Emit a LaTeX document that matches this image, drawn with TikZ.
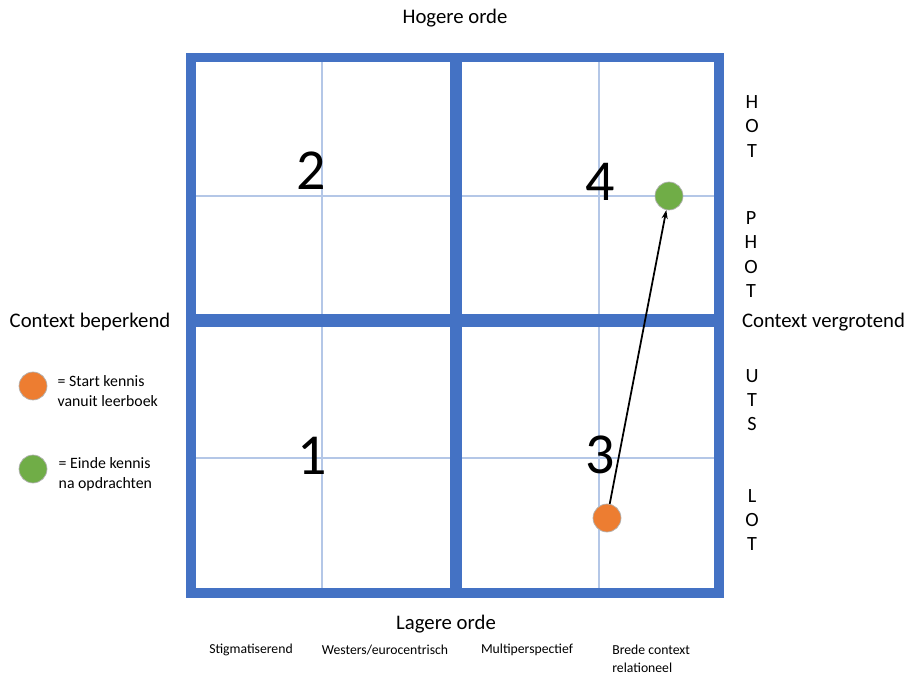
\documentclass[tikz,border=0pt]{standalone}
\usepackage{fontspec}
\setmainfont{Carlito}
\usetikzlibrary{arrows.meta,positioning}
\definecolor{qblue}{HTML}{4472C4}
\definecolor{qlight}{HTML}{B4C7E7}
\definecolor{dorange}{HTML}{ED7D31}
\definecolor{dgreen}{HTML}{70AD47}

\begin{document}
\begin{tikzpicture}[
  x=0.02cm, y=-0.02cm,
  frameline/.style={draw=qblue, line width=5.2pt},
  axisline/.style={draw=qblue, line width=7pt},
  gridline/.style={draw=qlight, line width=0.6pt},
  quad/.style={font=\fontsize{33}{36}\selectfont, inner sep=0pt},
  lbl/.style={font=\fontsize{11.8}{14}\selectfont, inner sep=0pt},
  letters/.style={font=\fontsize{11.5}{13.7}\selectfont, align=center, inner sep=0pt},
  leg/.style={font=\fontsize{9}{11.2}\selectfont, align=left, inner sep=0pt, anchor=west},
  small/.style={font=\fontsize{7.8}{10}\selectfont, align=left, inner sep=0pt},
  dot/.style={circle, minimum size=0.56cm, inner sep=0pt,
    draw=gray!60, line width=0.4pt},
  Dorange/.style={dot, fill=dorange},
  Dgreen/.style ={dot, fill=dgreen},
  arr/.style={-{Stealth[length=5pt,width=3.5pt]}, draw=black, line width=1pt},
]
\useasboundingbox (0,0) rectangle (906,675);

%% GRID
\draw[gridline] (322,57.5) -- (322,593);
\draw[gridline] (599,57.5) -- (599,593);
\draw[gridline] (191,196) -- (719,196);
\draw[gridline] (191,458) -- (719,458);
\draw[axisline] (456,57.5) -- (456,593);
\draw[axisline] (191,320.5) -- (719,320.5);
\draw[frameline] (191,57.5) rectangle (719,593);

%% QUADRANTS
\node[quad] (q2) at (311,171) {2};
\node[quad] (q4) at (600,182) {4};
\node[quad] (q1) at (312,456) {1};
\node[quad] (q3) at (600,455) {3};

%% AXIS LABELS
\node[lbl] (hoog)  at (455,18)    {Hogere orde};
\node[lbl] (laag)  at (446,624)   {Lagere orde};
\node[lbl] (cbep)  at (90,322)    {Context beperkend};
\node[lbl] (cvergr) at (823.5,322) {Context vergrotend};

\node[letters] (hot)  at (752,126.5) {H\\O\\T};
\node[letters] (phot) at (751,254.5) {P\\H\\O\\T};
\node[letters] (uts)  at (752,400)   {U\\T\\S};
\node[letters] (lot)  at (752,520)   {L\\O\\T};

%% BOTTOM SCALE
\node[small] (stig) at (251,650) {Stigmatiserend};
\node[small] (west) at (385,650) {Westers/eurocentrisch};
\node[small] (mult) at (527,650) {Multiperspectief};
\node[small, anchor=west] (bred) at (612,659)
  {Brede context\\relationeel};

%% LEGEND
\node[Dorange] (legstart) at (33,386) {};
\node[leg, right=0.2cm of legstart, yshift=-0.1cm] (legstartt)
  {= Start kennis\\vanuit leerboek};
\node[Dgreen] (legeinde) at (33,469) {};
\node[leg, right=0.22cm of legeinde, yshift=-0.1cm] (legeindet)
  {= Einde kennis\\na opdrachten};

%% PATH
\node[Dorange] (start) at (607,518) {};
\node[Dgreen]  (einde) at (669,196) {};
\draw[arr] (start) -- (einde);

\end{tikzpicture}
\end{document}
